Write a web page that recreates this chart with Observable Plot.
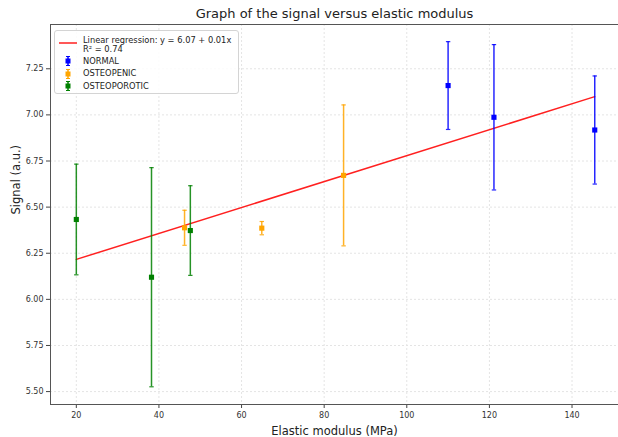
<!DOCTYPE html>
<html><head><meta charset="utf-8">
<script src="https://cdn.jsdelivr.net/npm/d3@7"></script>
<script src="https://cdn.jsdelivr.net/npm/@observablehq/plot@0.6"></script>
<style>
body{margin:0;background:#fff;font-family:"DejaVu Sans",sans-serif;}
#wrap{position:relative;width:618px;height:437px;overflow:hidden;background:#fff}
#legend{position:absolute;left:54px;top:30px;width:183px;height:62px;border:1px solid #d4d4d4;border-radius:3px;background:rgba(255,255,255,0.85);font-size:8.3px;color:#222;line-height:9px}
.row{position:absolute;left:0;width:100%}
.row svg{position:absolute;left:3px;top:0}
.row span{position:absolute;left:28px;white-space:nowrap}
</style></head><body><div id="wrap"><div id="legend"></div></div>
<script>
// ---- data ----
const titleText = "Graph of the signal versus elastic modulus";
const xLabel = "Elastic modulus (MPa)";
const yLabel = "Signal (a.u.)";
const xTicks = [20, 40, 60, 80, 100, 120, 140];
const yTicks = [5.50, 5.75, 6.00, 6.25, 6.50, 6.75, 7.00, 7.25];

const groupNames = ["NORMAL", "OSTEOPENIC", "OSTEOPOROTIC"];
const groupColors = ["#0000ff", "#ffa500", "#008000"];

const normalX = [110.0, 121.1, 145.5];
const normalY = [7.159, 6.987, 6.918];
const normalErr = [0.238, 0.394, 0.293];

const osteopenicX = [46.2, 64.9, 84.7];
const osteopenicY = [6.388, 6.386, 6.672];
const osteopenicErr = [0.095, 0.036, 0.382];

const osteoporoticX = [20.0, 38.2, 47.6];
const osteoporoticY = [6.433, 6.120, 6.373];
const osteoporoticErr = [0.300, 0.594, 0.243];

const regIntercept = 6.076;
const regSlope = 0.00703;
const regLabel = "Linear regression: y = 6.07 + 0.01x";
const r2Label = "R\u00b2 = 0.74";

// ---- build ----
const groups = [
  {x: normalX, y: normalY, e: normalErr},
  {x: osteopenicX, y: osteopenicY, e: osteopenicErr},
  {x: osteoporoticX, y: osteoporoticY, e: osteoporoticErr}
].map((g, gi) => g.x.map((x, i) => ({x, y: g.y[i], lo: g.y[i] - g.e[i], hi: g.y[i] + g.e[i], gi})));

const allX = groups.flat().map(d => d.x);
const regX = [d3.min(allX), d3.max(allX)];
const regLine = regX.map(x => ({x, y: regIntercept + regSlope * x}));

const capSymbol = {draw(ctx) { ctx.moveTo(-2.2, 0); ctx.lineTo(2.2, 0); }};

const marks = [
  Plot.gridX(xTicks, {stroke: "#e4e4e4", strokeOpacity: 1, strokeDasharray: "2,2"}),
  Plot.gridY(yTicks, {stroke: "#e4e4e4", strokeOpacity: 1, strokeDasharray: "2,2"}),
  Plot.axisX(xTicks, {tickSize: 4, tickPadding: 4, label: null, fontSize: 8, stroke: "#444"}),
  Plot.axisY(yTicks, {tickSize: 4, tickPadding: 3, label: null, fontSize: 8, tickFormat: d3.format(".2f"), stroke: "#444"}),
  Plot.frame({stroke: "#555", strokeWidth: 1}),
  Plot.line(regLine, {x: "x", y: "y", stroke: "#ff2020", strokeWidth: 1.5})
];
groups.forEach((g, gi) => {
  const c = groupColors[gi];
  marks.push(
    Plot.ruleX(g, {x: "x", y1: "lo", y2: "hi", stroke: c, strokeWidth: 1.5, strokeOpacity: 0.85}),
    Plot.dot(g, {x: "x", y: "lo", symbol: capSymbol, stroke: c, fill: "none", strokeWidth: 1.2, strokeOpacity: 0.85}),
    Plot.dot(g, {x: "x", y: "hi", symbol: capSymbol, stroke: c, fill: "none", strokeWidth: 1.2, strokeOpacity: 0.85}),
    Plot.dot(g, {x: "x", y: "y", symbol: "square", r: 2.9, fill: c, stroke: "none"})
  );
});
marks.push(
  Plot.text([titleText], {text: d => d, frameAnchor: "top", dy: -16, fontSize: 13, fill: "#222"}),
  Plot.text([xLabel], {text: d => d, frameAnchor: "bottom", dy: 30, fontSize: 11.5, fill: "#222"}),
  Plot.text([yLabel], {text: d => d, frameAnchor: "left", dx: -34, rotate: -90, fontSize: 11.5, fill: "#222"})
);

const chart = Plot.plot({
  width: 618, height: 437,
  marginLeft: 50, marginRight: 0, marginTop: 24, marginBottom: 33,
  style: {fontFamily: "DejaVu Sans, sans-serif", fontSize: "8px", color: "#333", background: "white", overflow: "visible"},
  x: {domain: [13.75, 151.25]},
  y: {domain: [5.43, 7.49]},
  marks
});
const wrap = document.getElementById("wrap");
wrap.insertBefore(chart, wrap.firstChild);

// legend
const legend = document.getElementById("legend");
const rowsHtml = [];
rowsHtml.push(`<div class="row" style="top:4px;height:20px"><svg width="22" height="20"><line x1="1" x2="19" y1="8" y2="8" stroke="#ff2020" stroke-width="1.5"/></svg><span style="top:1px">${regLabel}<br>${r2Label}</span></div>`);
groupNames.forEach((name, i) => {
  const top = 24 + i * 12.5;
  const c = groupColors[i];
  rowsHtml.push(`<div class="row" style="top:${top}px;height:12px"><svg width="22" height="12"><line x1="10" x2="10" y1="1.5" y2="10.5" stroke="${c}" stroke-width="1.5"/><line x1="8" x2="12" y1="1.5" y2="1.5" stroke="${c}"/><line x1="8" x2="12" y1="10.5" y2="10.5" stroke="${c}"/><rect x="7.5" y="3.5" width="5" height="5" fill="${c}"/></svg><span style="top:1.5px">${name}</span></div>`);
});
legend.innerHTML = rowsHtml.join("");
</script>
</body></html>
